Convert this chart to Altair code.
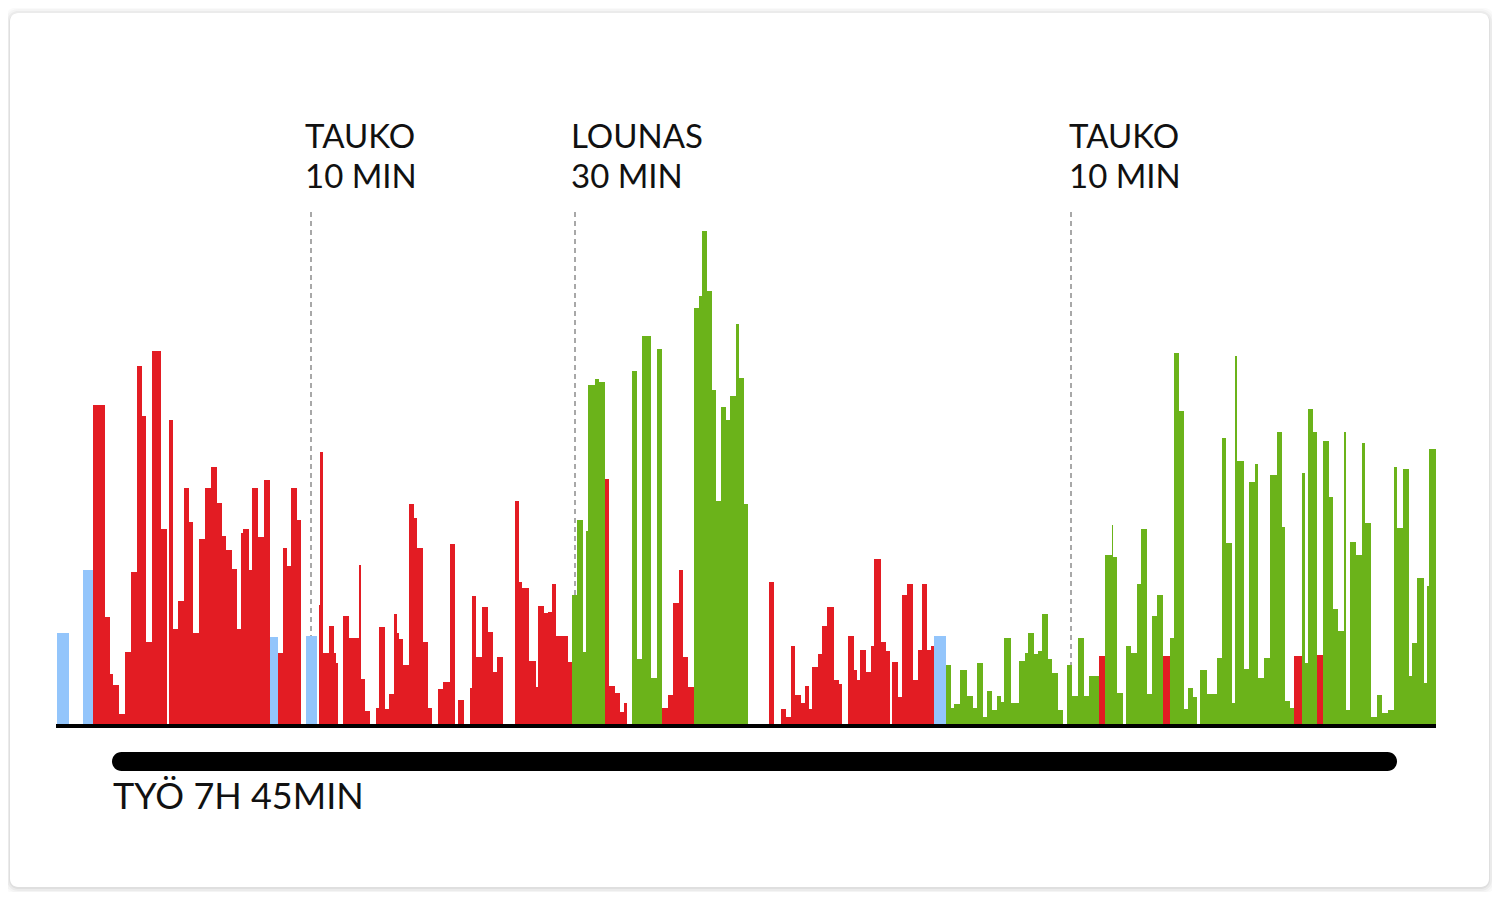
import altair as alt
import pandas as pd

# Activity record: each run has a start and end (time units, 0 = first record),
# an activity level and a kind (b = idle/light blue, r = sitting/red, g = active/green)
starts = [0, 26, 36, 48, 53, 56, 62, 68, 74, 80,
          85, 89, 95, 104, 112, 116, 121, 127, 132, 136,
          142, 148, 154, 160, 165, 169, 175, 180, 184, 186,
          192, 195, 201, 207, 213, 221, 226, 230, 234, 240,
          249, 262, 263, 266, 272, 277, 279, 286, 292, 302,
          304, 308, 319, 322, 328, 332, 337, 340, 342, 346,
          352, 357, 360, 366, 371, 381, 386, 393, 401, 413,
          415, 419, 425, 431, 436, 440, 458, 462, 465, 472,
          479, 481, 487, 491, 495, 499, 511, 515, 520, 526,
          529, 531, 538, 542, 548, 552, 558, 563, 567, 575,
          580, 585, 594, 600, 605, 611, 616, 622, 626, 631,
          637, 642, 645, 650, 655, 659, 664, 669, 673, 679,
          682, 687, 712, 724, 729, 734, 738, 744, 748, 752,
          755, 761, 765, 770, 777, 782, 791, 797, 800, 803,
          809, 814, 817, 824, 829, 835, 841, 845, 850, 856,
          861, 865, 870, 874, 877, 889, 894, 897, 903, 910,
          916, 920, 926, 930, 935, 940, 944, 947, 954, 962,
          968, 971, 977, 981, 985, 991, 995, 1001, 1010, 1015,
          1021, 1027, 1032, 1042, 1048, 1055, 1056, 1060, 1069, 1074,
          1080, 1084, 1090, 1095, 1100, 1106, 1113, 1117, 1122, 1127,
          1131, 1136, 1143, 1150, 1160, 1165, 1169, 1175, 1178, 1180,
          1187, 1192, 1198, 1201, 1207, 1213, 1220, 1225, 1228, 1233,
          1237, 1245, 1248, 1251, 1256, 1260, 1266, 1272, 1276, 1281,
          1287, 1289, 1293, 1299, 1305, 1308, 1314, 1320, 1325, 1331,
          1337, 1340, 1346, 1352, 1355, 1360, 1367, 1370, 1372]

ends = [12, 36, 48, 53, 56, 62, 68, 74, 80, 85,
        89, 95, 104, 110, 116, 121, 127, 132, 136, 142,
        148, 154, 160, 165, 169, 175, 180, 184, 186, 192,
        195, 201, 207, 213, 221, 226, 230, 234, 240, 244,
        260, 263, 266, 272, 277, 279, 281, 292, 302, 304,
        308, 313, 322, 328, 332, 337, 340, 342, 346, 352,
        357, 360, 366, 371, 375, 386, 393, 398, 407, 415,
        419, 425, 431, 436, 440, 446, 462, 465, 472, 479,
        481, 487, 491, 495, 499, 511, 515, 520, 526, 529,
        531, 538, 542, 548, 552, 558, 563, 567, 570, 580,
        585, 594, 600, 605, 611, 616, 622, 626, 631, 637,
        642, 645, 650, 655, 659, 664, 669, 673, 679, 682,
        687, 691, 717, 729, 734, 738, 744, 748, 752, 755,
        761, 765, 770, 777, 782, 785, 797, 800, 803, 809,
        814, 817, 824, 829, 833, 841, 845, 850, 856, 861,
        865, 870, 874, 877, 889, 894, 897, 903, 910, 916,
        920, 926, 930, 935, 940, 944, 947, 954, 962, 968,
        971, 977, 981, 985, 991, 995, 1001, 1006, 1015, 1021,
        1027, 1032, 1042, 1048, 1055, 1056, 1060, 1066, 1074, 1080,
        1084, 1090, 1095, 1100, 1106, 1113, 1117, 1122, 1127, 1131,
        1136, 1140, 1150, 1160, 1165, 1169, 1175, 1178, 1180, 1187,
        1192, 1198, 1201, 1207, 1213, 1220, 1225, 1228, 1233, 1237,
        1245, 1248, 1251, 1256, 1260, 1266, 1272, 1276, 1281, 1287,
        1289, 1293, 1299, 1305, 1308, 1314, 1320, 1325, 1331, 1337,
        1340, 1346, 1352, 1355, 1360, 1367, 1370, 1372, 1379]

values = [91, 154, 319, 107, 50, 39, 10, 72, 152, 358,
          308, 82, 373, 195, 304, 95, 123, 236, 202, 91,
          185, 236, 257, 221, 188, 174, 155, 95, 191, 195,
          154, 236, 187, 244, 87, 71, 176, 158, 236, 204,
          88, 119, 272, 71, 98, 71, 61, 108, 86, 159,
          45, 13, 16, 97, 15, 30, 110, 91, 85, 59,
          220, 206, 176, 82, 16, 35, 42, 180, 24, 36,
          128, 67, 117, 92, 52, 67, 223, 142, 136, 63,
          37, 118, 111, 112, 140, 88, 62, 129, 204, 72,
          193, 339, 345, 342, 245, 38, 31, 12, 21, 353,
          65, 388, 46, 375, 16, 29, 121, 154, 67, 37,
          416, 428, 493, 433, 334, 223, 317, 304, 328, 400,
          346, 220, 142, 15, 7, 78, 29, 21, 38, 15,
          57, 70, 98, 117, 44, 40, 88, 54, 44, 74,
          52, 78, 165, 82, 73, 62, 27, 129, 140, 44,
          74, 140, 74, 78, 88, 59, 16, 20, 54, 28,
          16, 61, 7, 33, 14, 28, 22, 86, 21, 63,
          71, 91, 70, 73, 110, 65, 51, 14, 59, 28,
          86, 28, 48, 68, 169, 199, 167, 31, 78, 71,
          140, 195, 30, 108, 129, 68, 86, 371, 313, 15,
          36, 27, 54, 30, 66, 286, 181, 21, 368, 263,
          55, 242, 260, 46, 66, 249, 292, 197, 23, 16,
          68, 251, 61, 315, 292, 69, 283, 227, 115, 93,
          292, 14, 182, 169, 281, 201, 7, 29, 11, 14,
          257, 196, 255, 48, 81, 146, 41, 138, 275]

# kind of each consecutive group of runs and how many runs it spans
phase_kinds = ["b", "r", "b", "r", "b", "r", "g", "r", "g", "r", "g",
               "r", "b", "g", "r", "g", "r", "g", "r", "g", "r", "g"]
phase_lengths = [2, 32, 1, 5, 1, 46, 7, 5, 5, 6, 12,
                 32, 1, 28, 1, 11, 1, 24, 1, 4, 1, 23]

kinds = [k for k, n in zip(phase_kinds, phase_lengths) for _ in range(n)]
assert len(starts) == len(ends) == len(values) == len(kinds)

# annotations
break_times = [254, 518, 1014]
break_titles = ["TAUKO", "LOUNAS", "TAUKO"]
break_lengths = ["10 MIN", "30 MIN", "10 MIN"]
break_label_x = [248, 514, 1012]
work_start, work_end = 55, 1340
work_label = "TYÖ 7H 45MIN"

bars = pd.DataFrame({"t0": starts, "t1": ends, "v": values, "kind": kinds, "base": 0})

xs = alt.Scale(domain=[-49, 1435], nice=False, zero=False)
ys = alt.Scale(domain=[-168, 716], nice=False, zero=False)
one = pd.DataFrame({"a": [0]})

W, H = 1484, 884

layers = []
# card shadow + card
for k, op in [(7, 0.018), (5, 0.025), (3, 0.035), (1, 0.05)]:
    layers.append(
        alt.Chart(one).mark_rect(fill="#000000", fillOpacity=op, cornerRadius=8 + k).encode(
            x=alt.value(2 - k), x2=alt.value(1481 + k),
            y=alt.value(5 - k + 1), y2=alt.value(879 + k + 1))
    )
layers.append(
    alt.Chart(one).mark_rect(fill="#ffffff", cornerRadius=8).encode(
        x=alt.value(2), x2=alt.value(1481), y=alt.value(5), y2=alt.value(879))
)

# dashed break markers
marks_df = pd.DataFrame({"t": break_times, "top": [512] * 3, "bottom": [0] * 3})
layers.append(
    alt.Chart(marks_df).mark_rule(color="#a8a8a8", strokeWidth=2, strokeDash=[5, 4]).encode(
        x=alt.X("t:Q", scale=xs, axis=None),
        y=alt.Y("top:Q", scale=ys, axis=None),
        y2="bottom:Q")
)

# activity bars
layers.append(
    alt.Chart(bars).mark_rect().encode(
        x=alt.X("t0:Q", scale=xs, axis=None),
        x2="t1:Q",
        y=alt.Y("v:Q", scale=ys, axis=None),
        y2="base:Q",
        color=alt.Color("kind:N", legend=None,
                        scale=alt.Scale(domain=["b", "r", "g"],
                                        range=["#93c5fb", "#e31c23", "#6bb31a"])))
)

# baseline
base_df = pd.DataFrame({"t0": [-1], "t1": [1379], "v0": [0], "v1": [-4]})
layers.append(
    alt.Chart(base_df).mark_rect(color="#000000").encode(
        x=alt.X("t0:Q", scale=xs, axis=None), x2="t1:Q",
        y=alt.Y("v0:Q", scale=ys, axis=None), y2="v1:Q")
)

# work period bar
work_df = pd.DataFrame({"t0": [work_start], "t1": [work_end], "v0": [-28], "v1": [-47]})
layers.append(
    alt.Chart(work_df).mark_rect(color="#000000", cornerRadius=9.5).encode(
        x=alt.X("t0:Q", scale=xs, axis=None), x2="t1:Q",
        y=alt.Y("v0:Q", scale=ys, axis=None), y2="v1:Q")
)

# break labels
text_rows = []
for x0, a, b in zip(break_label_x, break_titles, break_lengths):
    text_rows.append({"t": x0, "v": 576, "text": a})
    text_rows.append({"t": x0, "v": 536, "text": b})
text_df = pd.DataFrame(text_rows)
layers.append(
    alt.Chart(text_df).mark_text(align="left", baseline="alphabetic", font="Lato",
                                 fontSize=33, color="#111111").encode(
        x=alt.X("t:Q", scale=xs, axis=None),
        y=alt.Y("v:Q", scale=ys, axis=None),
        text="text:N")
)

# work label
work_text_df = pd.DataFrame({"t": [work_start + 1], "v": [-85], "text": [work_label]})
layers.append(
    alt.Chart(work_text_df).mark_text(align="left", baseline="alphabetic", font="Lato",
                                      fontSize=36, color="#111111").encode(
        x=alt.X("t:Q", scale=xs, axis=None),
        y=alt.Y("v:Q", scale=ys, axis=None),
        text="text:N")
)

chart = alt.layer(*layers).properties(
    width=W, height=H, autosize=alt.AutoSizeParams(type="none"), padding=0,
    background="#ffffff"
).configure_view(stroke=None)

chart.save("out.html", embed_options={"renderer": "svg", "actions": False})
